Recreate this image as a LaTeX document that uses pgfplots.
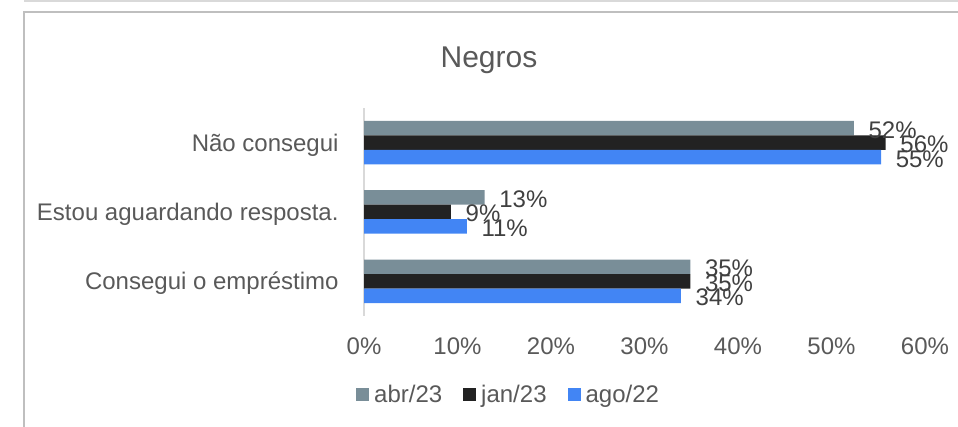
\documentclass[border=0pt]{standalone}
\usepackage{fontspec}
\setmainfont{Liberation Sans}
\usepackage{pgfplots}
\pgfplotsset{compat=1.18}
\definecolor{cabr}{HTML}{798E98}
\definecolor{cjan}{HTML}{222222}
\definecolor{cago}{HTML}{4285F4}
\definecolor{txt}{HTML}{595959}
\definecolor{lbl}{HTML}{404040}
\definecolor{framegray}{HTML}{BFBFBF}
\definecolor{axisgray}{HTML}{D9D9D9}
\newcommand\bigf{\fontsize{24}{28}\selectfont}

\begin{document}
\begin{tikzpicture}[x=1pt,y=1pt]
\useasboundingbox (0,0) rectangle (958,427);
% outer frame lines
\draw[axisgray, line width=1.2pt] (24,426) -- (958,426);
\draw[framegray, line width=1.6pt] (24,0) -- (24,415) -- (958,415);
\node[anchor=base, text=txt, font=\fontsize{30}{34}\selectfont] at (489,359) {Negros};

\begin{axis}[
  at={(364pt,111pt)}, anchor=south west,
  scale only axis, width=561pt, height=208pt,
  xmin=0, xmax=60, ymin=-0.5, ymax=2.5,
  clip=false,
  xbar, bar width=14.5pt,
  axis line style={draw=none},
  tick style={draw=none},
  /pgf/number format/assume math mode=true,
  xtick={0,10,20,30,40,50,60},
  xticklabel={\pgfmathprintnumber{\tick}\%},
  ytick={0,1,2},
  yticklabels={Consegui o empréstimo, Estou aguardando resposta., Não consegui},
  xticklabel style={anchor=base, inner sep=0pt, yshift=-38.5pt, text=txt, font=\bigf},
  yticklabel style={anchor=base east, inner sep=0pt, xshift=-21pt, yshift=-8.5pt, text=txt, font=\bigf},
  point meta=x,
  nodes near coords={\pgfmathprintnumber[fixed,precision=0]{\pgfplotspointmeta}\%},
  nodes near coords style={anchor=base west, inner sep=0pt, xshift=14.5pt, yshift=-10pt, text=lbl, font=\bigf},
  legend style={at={(-0.0143,-0.3798)}, anchor=west, draw=none, fill=none,
    legend columns=3, inner sep=0pt,
    nodes={inner sep=0pt, text=txt, font=\bigf},
    /tikz/every odd column/.append style={column sep=5pt},
    /tikz/every even column/.append style={column sep=21pt}},
  legend image code/.code={\fill[#1,draw=none] (0pt,-6.5pt) rectangle (13pt,6.5pt);},
]
\draw[axisgray, line width=2pt] (axis cs:0,-0.5) -- (axis cs:0,2.5);
\addplot[fill=cabr, draw=none, bar shift=14.5pt] coordinates {(34.9,0) (12.9,1) (52.4,2)};
\addplot[fill=cjan, draw=none, bar shift=0pt] coordinates {(34.9,0) (9.3,1) (55.8,2)};
\addplot[fill=cago, draw=none, bar shift=-14.5pt] coordinates {(33.9,0) (11.0,1) (55.3,2)};
\legend{abr/23, jan/23, ago/22}
\end{axis}
\end{tikzpicture}
\end{document}
